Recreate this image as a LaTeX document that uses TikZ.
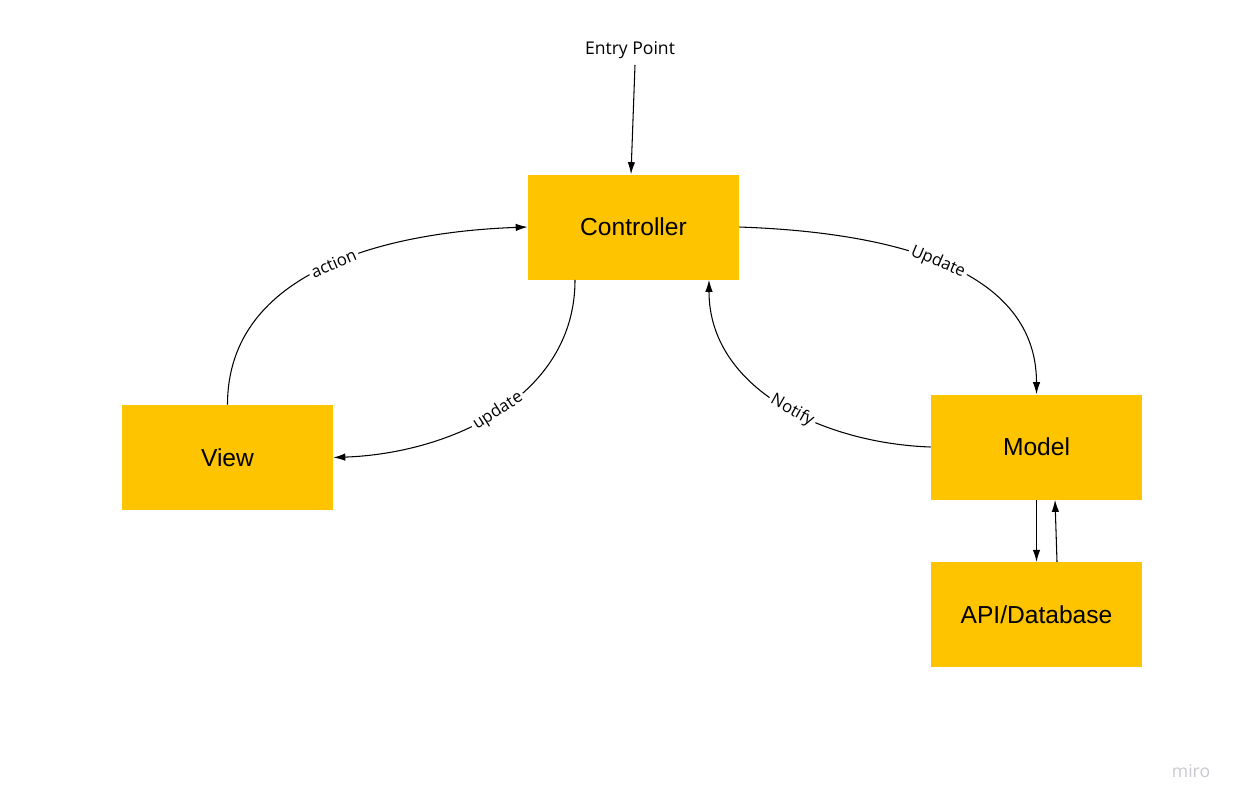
\documentclass[tikz,border=0pt]{standalone}
\usepackage{fontspec}
\setmainfont{Liberation Sans}
\newfontfamily\labelfont{Open Sans}
\usepackage{xcolor}
\usetikzlibrary{arrows.meta,positioning}
\definecolor{mvcyellow}{RGB}{255,196,0}
\definecolor{miroGray}{RGB}{200,200,210}

\begin{document}
\begin{tikzpicture}[
    x=0.02cm, y=-0.02cm,
    part/.style={rectangle,fill=mvcyellow,minimum width=4.22cm,minimum height=2.1cm,inner sep=0pt,font=\fontsize{14}{16}\selectfont},
    lbl/.style={font=\labelfont\fontsize{9.5}{10}\selectfont,sloped,fill=white,inner sep=1.5pt},
    arrow/.style={-{Latex[length=2.4mm,width=1.5mm]},line width=0.6pt}
]
\useasboundingbox (0,0) rectangle (1239,806);

\node[part] (ctrl) at (633.5,227) {Controller};
\node[part] (view) at (227.5,457.5) {View};
\node[part] (model) at (1036.5,447) {Model};
\node[part, below=1.24cm of model] (api) {API/Database};
\node[font=\labelfont\fontsize{10}{12}\selectfont] (entry) at (630,50) {Entry Point};
\node[font=\labelfont\fontsize{10}{12}\selectfont, text=miroGray] (miro) at (1191,771) {miro};

\draw[arrow] ([xshift=0.1cm]entry.south) -- ([xshift=-0.05cm]ctrl.north);
\draw[arrow] (view.north) to[out=90,in=182] node[lbl,pos=0.52] {action} (ctrl.west);
\draw[arrow] ([xshift=-1.17cm]ctrl.south) to[out=-90,in=2] node[lbl,pos=0.5] {update} (view.east);
\draw[arrow] (ctrl.east) to[out=-2,in=90] node[lbl,pos=0.5] {Update} (model.north);
\draw[arrow] (model.west) to[out=178,in=-90] node[lbl,pos=0.45] {Notify} ([xshift=1.51cm]ctrl.south);
\draw[arrow] (model.south) -- (api.north);
\draw[arrow] ([xshift=0.41cm]api.north) -- ([xshift=0.37cm]model.south);
\end{tikzpicture}
\end{document}
